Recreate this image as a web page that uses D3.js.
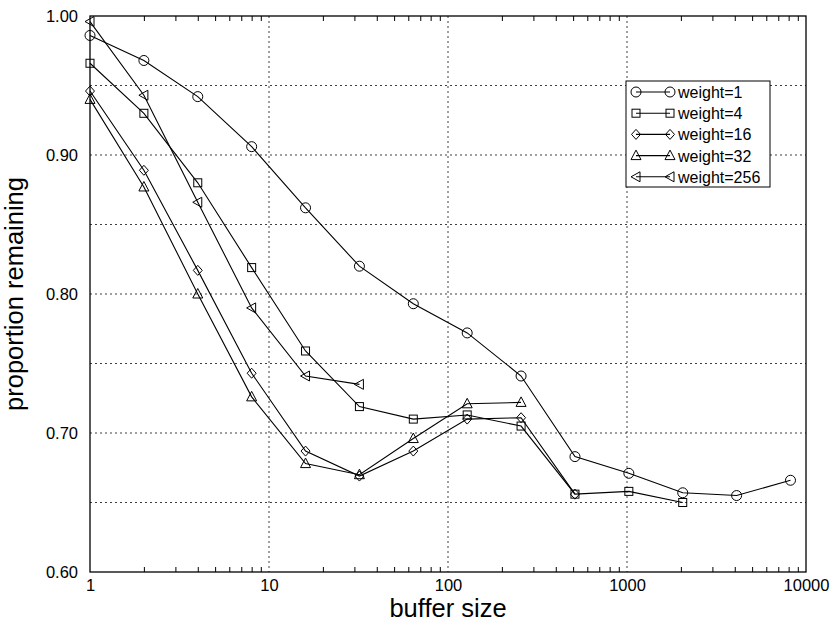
<!DOCTYPE html>
<html><head><meta charset="utf-8">
<script src="https://cdn.jsdelivr.net/npm/d3@7"></script>
<style>body{margin:0;background:#fff}svg{display:block}text{font-family:"Liberation Sans",Arial,Helvetica,sans-serif;fill:#000}</style>
</head><body><div id="chart"></div>
<script>
const bufferSizes = [1,2,4,8,16,32,64,128,256,512,1024,2048,4096,8192];
const seriesNames = ["weight=1","weight=4","weight=16","weight=32","weight=256"];
const w1   = [0.986,0.968,0.942,0.906,0.862,0.820,0.793,0.772,0.741,0.683,0.671,0.657,0.655,0.666];
const w4   = [0.966,0.930,0.880,0.819,0.759,0.719,0.710,0.713,0.705,0.656,0.658,0.650];
const w16  = [0.946,0.889,0.817,0.743,0.687,0.669,0.687,0.710,0.711,0.656];
const w32  = [0.940,0.877,0.800,0.726,0.678,0.670,0.696,0.721,0.722];
const w256 = [0.996,0.943,0.866,0.790,0.741,0.735];
const xTickLabels = ["1","10","100","1000","10000"];
const yTickLabels = ["0.60","0.70","0.80","0.90","1.00"];
const yGrid = [0.65,0.70,0.75,0.80,0.85,0.90,0.95];

const W=831,H=627;
const L=90,R=806,T=16,B=572;
const svg=d3.select("#chart").append("svg").attr("width",W).attr("height",H);
const x=d3.scaleLog().domain([1,10000]).range([L,R]);
const y=d3.scaleLinear().domain([0.6,1.0]).range([B,T]);

// grid
const g=svg.append("g");
g.selectAll(".hg").data(yGrid).join("line")
 .attr("x1",L).attr("x2",R).attr("y1",d=>y(d)).attr("y2",d=>y(d))
 .attr("stroke","#000").attr("stroke-width",1).attr("stroke-dasharray","2,3").attr("opacity",0.75);
g.selectAll(".vg").data([10,100,1000]).join("line")
 .attr("y1",T).attr("y2",B).attr("x1",d=>x(d)).attr("x2",d=>x(d))
 .attr("stroke","#000").attr("stroke-width",1).attr("stroke-dasharray","2,3").attr("opacity",0.75);

// frame
svg.append("rect").attr("x",L).attr("y",T).attr("width",R-L).attr("height",B-T)
 .attr("fill","none").attr("stroke","#000").attr("stroke-width",1.3);

// x ticks (minor, inward) bottom and top
const minor=[];
for(let dec=1;dec<10000;dec*=10){for(let k=2;k<=9;k++)minor.push(dec*k);}
svg.append("g").attr("transform",`translate(0,${B})`)
 .call(d3.axisBottom(x).tickValues(minor).tickSize(-5).tickFormat(""))
 .call(a=>a.select(".domain").remove())
 .call(a=>a.selectAll("line").attr("stroke","#000"));
svg.append("g").attr("transform",`translate(0,${T})`)
 .call(d3.axisTop(x).tickValues(minor).tickSize(-5).tickFormat(""))
 .call(a=>a.select(".domain").remove())
 .call(a=>a.selectAll("line").attr("stroke","#000"));

// x tick labels
const xAx=svg.append("g").attr("transform",`translate(0,${B})`)
 .call(d3.axisBottom(x).tickValues([1,10,100,1000,10000]).tickSize(0).tickPadding(7)
   .tickFormat((d,i)=>xTickLabels[i]));
xAx.select(".domain").remove();
xAx.selectAll("text").attr("font-size",16.5).attr("font-family","Liberation Sans, Arial, sans-serif");

// y tick labels
const yAx=svg.append("g").attr("transform",`translate(${L},0)`)
 .call(d3.axisLeft(y).tickValues([0.6,0.7,0.8,0.9,1.0]).tickSize(0).tickPadding(12)
   .tickFormat((d,i)=>yTickLabels[i]));
yAx.select(".domain").remove();
yAx.selectAll("text").attr("font-size",16.5).attr("font-family","Liberation Sans, Arial, sans-serif");

// axis titles
svg.append("text").attr("x",(L+R)/2).attr("y",617).attr("text-anchor","middle")
 .attr("font-size",25.5).text("buffer size");
svg.append("text").attr("transform",`translate(23,${(T+B)/2}) rotate(-90)`).attr("text-anchor","middle")
 .attr("font-size",25.5).text("proportion remaining");

// symbols
function marker(sel,type){
  if(type===0){sel.append("circle").attr("r",5);}
  else if(type===1){sel.append("rect").attr("x",-4).attr("y",-4).attr("width",8).attr("height",8);}
  else if(type===2){sel.append("path").attr("d","M0,-5L4.5,0L0,5L-4.5,0Z");}
  else if(type===3){sel.append("path").attr("d","M0,-5.5L5,4L-5,4Z");}
  else {sel.append("path").attr("d","M-5,0L4,-5L4,5Z");}
  sel.selectAll("*").attr("fill","none").attr("stroke","#000").attr("stroke-width",1);
}

const allSeries=[w1,w4,w16,w32,w256];
const line=d3.line().x((d,i)=>x(bufferSizes[i])).y(d=>y(d));
allSeries.forEach((vals,si)=>{
  svg.append("path").attr("d",line(vals)).attr("fill","none").attr("stroke","#000").attr("stroke-width",1.1);
  vals.forEach((v,i)=>{
    const m=svg.append("g").attr("transform",`translate(${x(bufferSizes[i])},${y(v)})`);
    marker(m,si);
  });
});

// legend
const lg=svg.append("g");
const lx=626, ly=81, lw=144, lh=106;
lg.append("rect").attr("x",lx).attr("y",ly).attr("width",lw).attr("height",lh)
 .attr("fill","#fff").attr("stroke","#000").attr("stroke-width",1);
seriesNames.forEach((name,i)=>{
  const cy=ly+11+i*21.2;
  lg.append("line").attr("x1",lx+10).attr("x2",lx+44).attr("y1",cy).attr("y2",cy).attr("stroke","#000").attr("stroke-width",1.1);
  marker(lg.append("g").attr("transform",`translate(${lx+10},${cy})`),i);
  marker(lg.append("g").attr("transform",`translate(${lx+44},${cy})`),i);
  lg.append("text").attr("x",678).attr("y",cy+6).attr("font-size",16).text(name);
});
</script></body></html>
